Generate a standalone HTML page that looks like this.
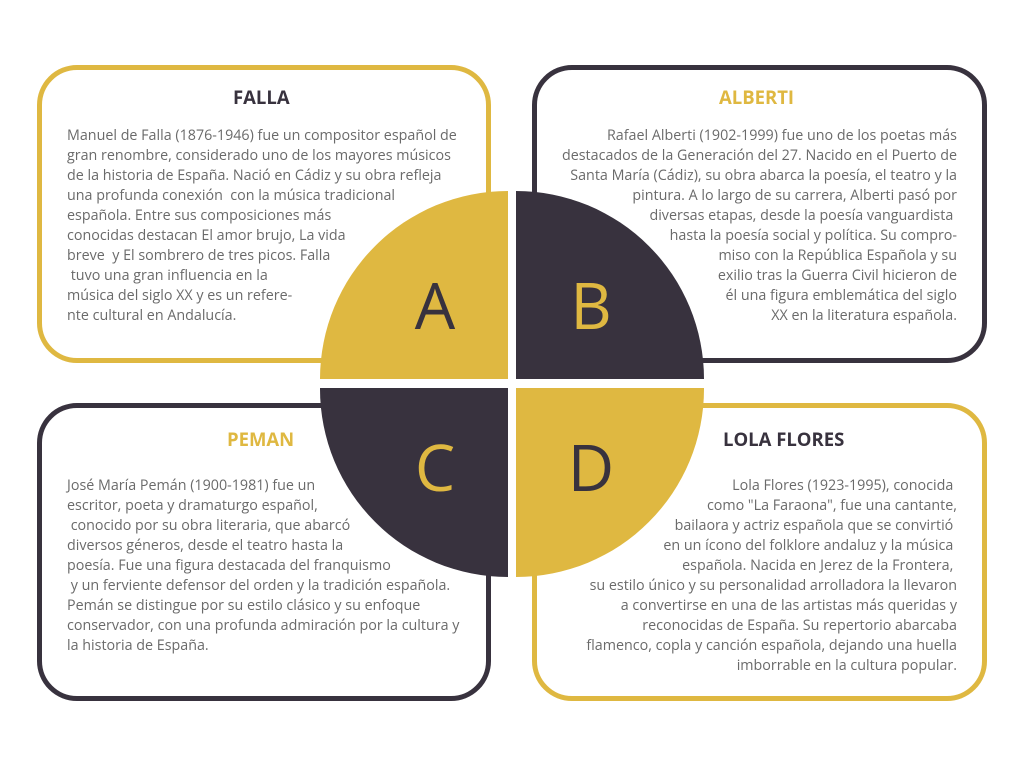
<!DOCTYPE html>
<html><head><meta charset="utf-8"><style>
body{margin:0;width:1024px;height:768px;background:#fff;position:relative;overflow:hidden;font-family:"Open Sans","Liberation Sans",sans-serif}
.box{position:absolute;border:5px solid;border-radius:40px;box-sizing:content-box}
.q{position:absolute;width:188px;height:188px}
.t{position:absolute;font-weight:bold;font-size:18.5px;white-space:nowrap}
.p{position:absolute;font-size:14.3px;line-height:20px;color:#6a6a6a;white-space:pre}
.L{position:absolute;font-size:64px;line-height:64px;width:120px;text-align:center}
</style></head><body>
<div class="box" style="left:37px;top:65px;border-color:#DFB841;width:444px;height:288px"></div>
<div class="box" style="left:532px;top:65px;border-color:#38323E;width:445px;height:288px"></div>
<div class="box" style="left:37px;top:403px;border-color:#38323E;width:444px;height:288px"></div>
<div class="box" style="left:532px;top:403px;border-color:#DFB841;width:445px;height:288px"></div>

<div class="q" style="left:320px;top:191px;background:#DFB841;border-top-left-radius:188px"></div>
<div class="q" style="left:516px;top:191px;background:#38323E;border-top-right-radius:188px"></div>
<div class="q" style="left:320px;top:388px;background:#38323E;border-bottom-left-radius:188px;height:189px"></div>
<div class="q" style="left:516px;top:388px;background:#DFB841;border-bottom-right-radius:188px;height:189px"></div>
<div class="L" style="left:375px;top:273px;color:#38323E">A</div>
<div class="L" style="left:531px;top:273px;color:#DFB841">B</div>
<div class="L" style="left:375px;top:435px;color:#DFB841">C</div>
<div class="L" style="left:531px;top:435px;color:#38323E">D</div>

<div class="t" style="left:233px;top:85px;color:#38323E">FALLA</div>
<div class="p" style="left:67px;top:126px">Manuel de Falla (1876-1946) fue un compositor español de
gran renombre, considerado uno de los mayores músicos
de la historia de España. Nació en Cádiz y su obra refleja
una profunda conexión  con la música tradicional
española. Entre sus composiciones más
conocidas destacan El amor brujo, La vida
breve  y El sombrero de tres picos. Falla
 tuvo una gran influencia en la
música del siglo XX y es un refere-
nte cultural en Andalucía.</div>

<div class="t" style="left:719px;top:85px;color:#DFB841">ALBERTI</div>
<div class="p" style="right:67px;top:126px;text-align:right">Rafael Alberti (1902-1999) fue uno de los poetas más
destacados de la Generación del 27. Nacido en el Puerto de
Santa María (Cádiz), su obra abarca la poesía, el teatro y la
pintura. A lo largo de su carrera, Alberti pasó por
diversas etapas, desde la poesía vanguardista 
hasta la poesía social y política. Su compro-
miso con la República Española y su
exilio tras la Guerra Civil hicieron de
él una figura emblemática del siglo
XX en la literatura española.</div>

<div class="t" style="left:227px;top:427px;color:#DFB841">PEMAN</div>
<div class="p" style="left:67px;top:476px">José María Pemán (1900-1981) fue un
escritor, poeta y dramaturgo español,
 conocido por su obra literaria, que abarcó
diversos géneros, desde el teatro hasta la
poesía. Fue una figura destacada del franquismo
 y un ferviente defensor del orden y la tradición española.
Pemán se distingue por su estilo clásico y su enfoque
conservador, con una profunda admiración por la cultura y
la historia de España.</div>

<div class="t" style="left:723px;top:427px;color:#38323E">LOLA FLORES</div>
<div class="p" style="right:67px;top:476px;text-align:right">Lola Flores (1923-1995), conocida 
como "La Faraona", fue una cantante,
bailaora y actriz española que se convirtió 
en un ícono del folklore andaluz y la música 
española. Nacida en Jerez de la Frontera, 
su estilo único y su personalidad arrolladora la llevaron
a convertirse en una de las artistas más queridas y
reconocidas de España. Su repertorio abarcaba
flamenco, copla y canción española, dejando una huella
imborrable en la cultura popular.</div>
</body></html>
